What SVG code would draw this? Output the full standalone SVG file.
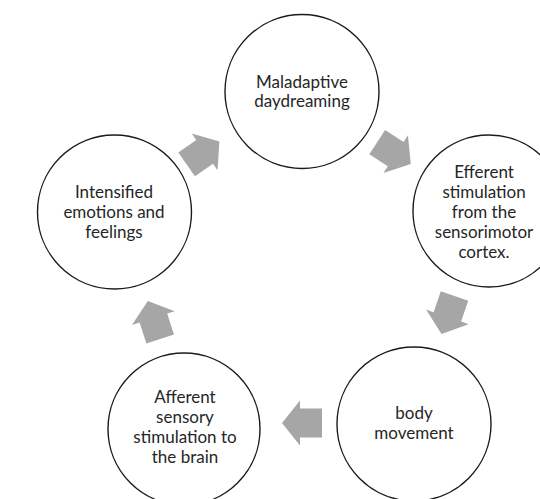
<svg xmlns="http://www.w3.org/2000/svg" width="540" height="499" viewBox="0 0 540 499">
<defs>
<style>
.node circle{fill:#ffffff;stroke:#1a1a1a;stroke-width:1.4}
.node text{font-family:Lato,"Open Sans","Liberation Sans",sans-serif;font-size:17px;fill:#262626;text-anchor:middle}
.arr{fill:#a6a6a6;stroke:none}
</style>
<polygon id="blk" points="-20,-14.5 2,-14.5 2,-22.5 20,0 2,22.5 2,14.5 -20,14.5"/>
</defs>
<rect width="540" height="499" fill="#ffffff"/>
<g id="connectors" class="arr">
<use href="#blk" transform="translate(203,153) rotate(-35)"/>
<use href="#blk" transform="translate(394,153) rotate(33)"/>
<use href="#blk" transform="translate(448,315) rotate(109)"/>
<use href="#blk" transform="translate(302,423) rotate(180)"/>
<use href="#blk" transform="translate(154,320) rotate(-108)"/>
</g>
<g id="node-maladaptive" class="node">
<circle cx="302" cy="91.5" r="77"/>
<text x="302" y="88">Maladaptive</text>
<text x="302" y="107">daydreaming</text>
</g>
<g id="node-efferent" class="node">
<circle cx="489" cy="211" r="76"/>
<text x="484" y="178">Efferent</text>
<text x="484" y="198">stimulation</text>
<text x="484" y="218">from the</text>
<text x="484" y="238">sensorimotor</text>
<text x="484" y="258">cortex.</text>
</g>
<g id="node-body" class="node">
<circle cx="414" cy="424" r="77"/>
<text x="414" y="419">body</text>
<text x="414" y="439">movement</text>
</g>
<g id="node-afferent" class="node">
<circle cx="184" cy="429" r="76"/>
<text x="185" y="403">Afferent</text>
<text x="185" y="423">sensory</text>
<text x="185" y="443">stimulation to</text>
<text x="185" y="463">the brain</text>
</g>
<g id="node-intensified" class="node">
<circle cx="114.5" cy="212" r="77"/>
<text x="114" y="198">Intensified</text>
<text x="114" y="218">emotions and</text>
<text x="114" y="238">feelings</text>
</g>
</svg>
